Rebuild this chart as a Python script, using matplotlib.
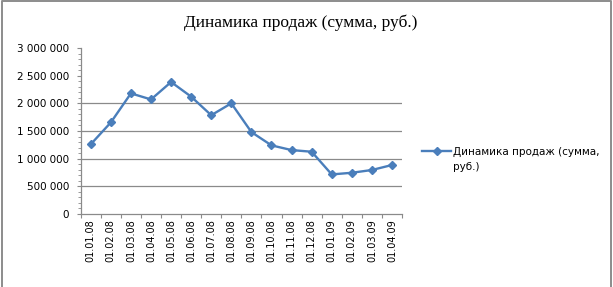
import matplotlib
matplotlib.use("Agg")
import matplotlib.pyplot as plt
from matplotlib.ticker import FuncFormatter, MultipleLocator, FixedLocator, NullFormatter
from matplotlib.lines import Line2D

title = "Динамика продаж (сумма, руб.)"
series_name_line1 = "Динамика продаж (сумма,"
series_name_line2 = "руб.)"
dates = ["01.01.08", "01.02.08", "01.03.08", "01.04.08", "01.05.08", "01.06.08",
         "01.07.08", "01.08.08", "01.09.08", "01.10.08", "01.11.08", "01.12.08",
         "01.01.09", "01.02.09", "01.03.09", "01.04.09"]
sales = [1260000, 1655000, 2180000, 2070000, 2385000, 2120000, 1785000, 2000000,
         1480000, 1240000, 1155000, 1125000, 715000, 745000, 795000, 885000]
grid_values = [500000, 1000000, 1500000, 2000000]

fig = plt.figure(figsize=(6.13, 2.87), dpi=100)
fig.patch.set_facecolor("white")
# outer frame: left, top, right (no bottom edge)
fig.add_artist(Line2D([0.0025, 0.0025, 0.9965, 0.9965], [0.0, 0.997, 0.997, 0.0],
                      transform=fig.transFigure, color="#8c8c8c", linewidth=1.4))

ax = fig.add_axes([0.1317, 0.2544, 0.5241, 0.5784])
x = list(range(len(dates)))
line, = ax.plot(x, sales, color="#4A7EBB", linewidth=1.7, marker="D", markersize=4.5,
                markerfacecolor="#4A7EBB", markeredgecolor="#4A7EBB",
                label=series_name_line1)

for g in grid_values:
    ax.axhline(g, color="#8a8a8a", linewidth=0.9, zorder=0)

ax.set_xlim(-0.5, len(dates) - 0.5)
ax.set_ylim(0, 3000000)

ax.yaxis.set_major_locator(MultipleLocator(500000))
ax.yaxis.set_minor_locator(MultipleLocator(100000))
ax.yaxis.set_major_formatter(FuncFormatter(lambda v, p: f"{int(v):,}".replace(",", " ")))

ax.xaxis.set_major_locator(FixedLocator([i - 0.5 for i in range(len(dates) + 1)]))
ax.xaxis.set_major_formatter(NullFormatter())
ax.xaxis.set_minor_locator(FixedLocator(x))
ax.set_xticklabels(dates, minor=True, rotation=90, fontsize=7, family="DejaVu Sans")
ax.tick_params(axis="x", which="minor", length=0, pad=4)
ax.tick_params(axis="x", which="major", length=3, color="#8a8a8a", direction="out")
ax.tick_params(axis="y", which="major", length=3, color="#8a8a8a", direction="out",
               labelsize=7.5, pad=5.5)
ax.tick_params(axis="y", which="minor", length=2.5, color="#8a8a8a", direction="out")
for lab in ax.get_yticklabels():
    lab.set_family("DejaVu Sans")

for s in ["top", "right"]:
    ax.spines[s].set_visible(False)
for s in ["left", "bottom"]:
    ax.spines[s].set_color("#8a8a8a")
    ax.spines[s].set_linewidth(0.9)

fig.text(0.49, 0.922, title, ha="center", va="center", fontsize=12.5,
         family="Liberation Serif")

leg = fig.legend(handles=[line], labels=[series_name_line1], loc="center left",
                 bbox_to_anchor=(0.68, 1 - 152 / 287), frameon=False, handlelength=2.8,
                 handletextpad=0.2, borderpad=0,
                 prop={"family": "DejaVu Sans", "size": 7.5})

fig.canvas.draw()
bb = leg.get_texts()[0].get_window_extent()
x0 = bb.x0 / fig.bbox.width
fig.text(x0, 1 - 167 / 287, series_name_line2, ha="left", va="center",
         fontsize=7.5, family="DejaVu Sans")

fig.savefig("out.png", dpi=100, facecolor="white")
